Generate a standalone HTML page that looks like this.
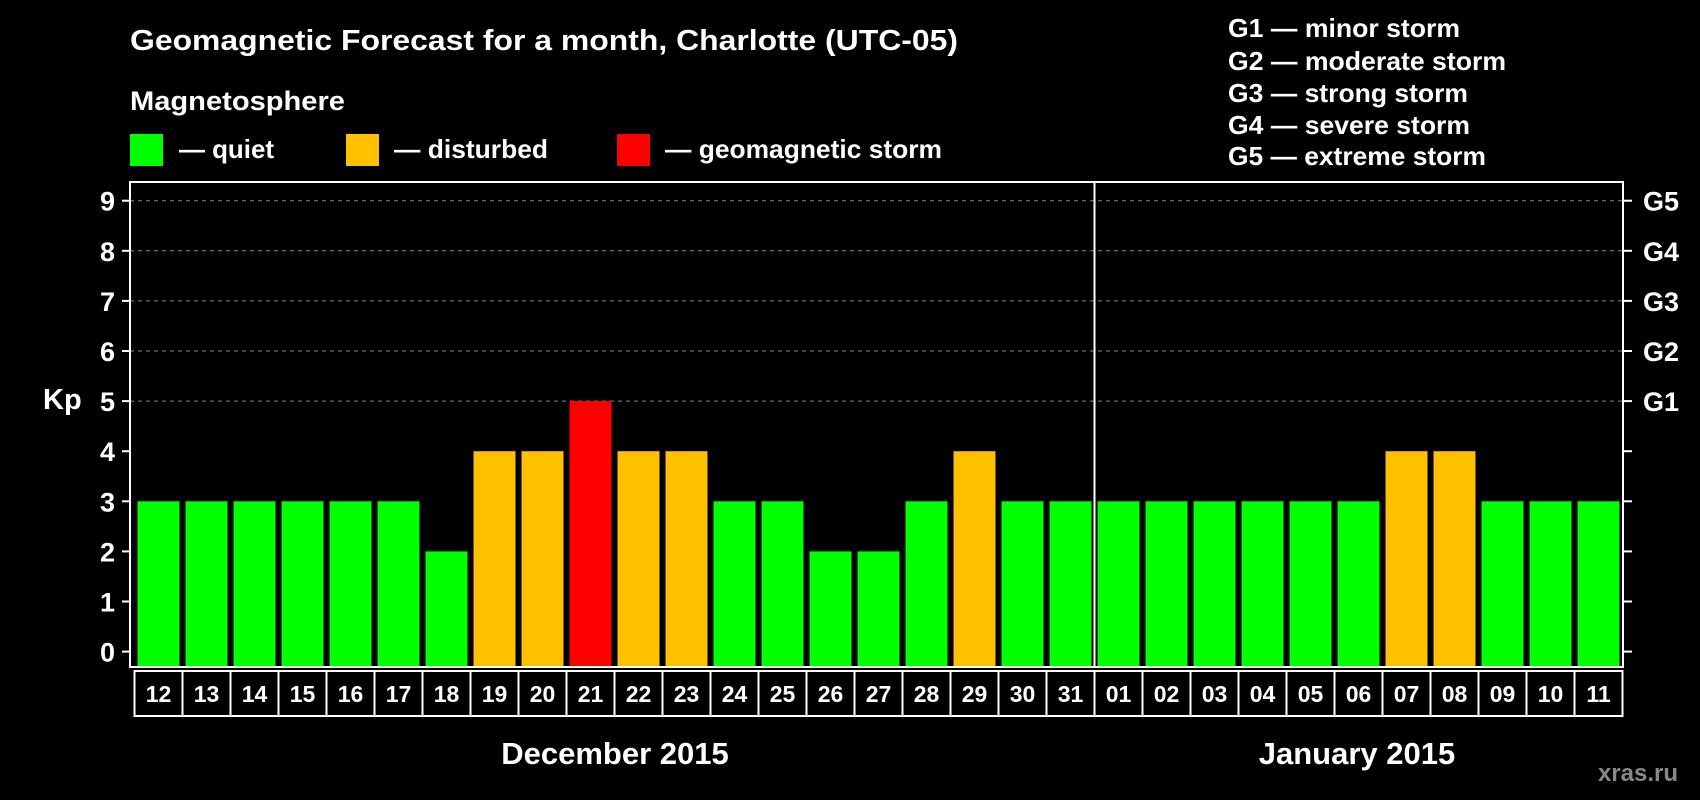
<!DOCTYPE html>
<html><head><meta charset="utf-8"><style>
html,body{margin:0;padding:0;background:#000;}
svg{display:block;font-family:"Liberation Sans",Arial,sans-serif;font-weight:bold;}
</style></head><body>
<svg id="chart" width="1700" height="800" viewBox="0 0 1700 800">
<rect x="0" y="0" width="1700" height="800" fill="#000"/>
<text x="130" y="50" fill="#fff" font-size="29" textLength="828" lengthAdjust="spacingAndGlyphs">Geomagnetic Forecast for a month, Charlotte (UTC-05)</text>
<text x="130" y="110" fill="#fff" font-size="27" textLength="215" lengthAdjust="spacingAndGlyphs">Magnetosphere</text>
<rect x="130" y="134" width="33" height="32" fill="#00ff00"/>
<text x="179" y="158" fill="#fff" font-size="26" textLength="95" lengthAdjust="spacingAndGlyphs">— quiet</text>
<rect x="346" y="134" width="33" height="32" fill="#ffc000"/>
<text x="394" y="158" fill="#fff" font-size="26" textLength="154" lengthAdjust="spacingAndGlyphs">— disturbed</text>
<rect x="617" y="134" width="33" height="32" fill="#ff0000"/>
<text x="665" y="158" fill="#fff" font-size="26" textLength="277" lengthAdjust="spacingAndGlyphs">— geomagnetic storm</text>
<g fill="#fff" font-size="26">
<text x="1228" y="37" textLength="232" lengthAdjust="spacingAndGlyphs">G1 — minor storm</text>
<text x="1228" y="70" textLength="278" lengthAdjust="spacingAndGlyphs">G2 — moderate storm</text>
<text x="1228" y="102" textLength="240" lengthAdjust="spacingAndGlyphs">G3 — strong storm</text>
<text x="1228" y="134" textLength="242" lengthAdjust="spacingAndGlyphs">G4 — severe storm</text>
<text x="1228" y="165" textLength="258" lengthAdjust="spacingAndGlyphs">G5 — extreme storm</text>
</g>
<text x="43" y="409" fill="#fff" font-size="29">Kp</text>
<g id="plot"></g>
<text x="615" y="764" fill="#fff" font-size="31" text-anchor="middle">December 2015</text>
<text x="1357" y="764" fill="#fff" font-size="31" text-anchor="middle">January 2015</text>
<text x="1678" y="781" fill="#888" font-size="24" text-anchor="end">xras.ru</text>
</svg>
<script>
const days = ["12","13","14","15","16","17","18","19","20","21","22","23","24","25","26","27","28","29","30","31","01","02","03","04","05","06","07","08","09","10","11"];
const kpValues = [3,3,3,3,3,3,2,4,4,5,4,4,3,3,2,2,3,4,3,3,3,3,3,3,3,3,4,4,3,3,3];
const yTicks = [0,1,2,3,4,5,6,7,8,9];
const gLabels = ["G1","G2","G3","G4","G5"];
const gLevels = [5,6,7,8,9];
const monthBreakIndex = 20;

const NS = "http://www.w3.org/2000/svg";
const g = document.getElementById("plot");
const L = 130, R = 1623, T = 182, B = 667, boxL = 134.5, pitch = 48;
function y(v){ return 651.6 - v * 50.1; }
function xc(i){ return boxL + pitch/2 + i * pitch; }
function mk(tag, attrs){ const e = document.createElementNS(NS, tag); for (const k in attrs) e.setAttribute(k, attrs[k]); g.appendChild(e); return e; }
function color(v){ return v >= 5 ? "#ff0000" : (v >= 4 ? "#ffc000" : "#00ff00"); }

yTicks.forEach(function(t){
  if (t >= 5) {
    const gl = mk("line", {x1:L, x2:R, y1:y(t), y2:y(t), stroke:"#888", "stroke-width":1, "stroke-dasharray":"4,4"});
    
    
  }
  const tl = mk("line", {x1:122, x2:L, y1:y(t), y2:y(t), stroke:"#fff", "stroke-width":2});
  
  
  const tr = mk("line", {x1:R, x2:R+9, y1:y(t), y2:y(t), stroke:"#fff", "stroke-width":2});
  
  
  const lab = mk("text", {x:115, y:y(t)+10, fill:"#fff", "font-size":27, "text-anchor":"end"});
  lab.textContent = t;
  
  
});
gLabels.forEach(function(s, i){
  const t = mk("text", {x:1643, y:y(gLevels[i])+10, fill:"#fff", "font-size":27});
  t.textContent = s;
  
  
});
kpValues.forEach(function(v, i){
  const b = mk("rect", {x:xc(i)-21, y:y(v), width:42, height:y(0)+15.4-y(v), fill:color(v)});
  
  
});
days.forEach(function(d, i){
  const bx = mk("rect", {x:boxL + i*pitch, y:671, width:pitch, height:45, fill:"none", stroke:"#fff", "stroke-width":2});
  
  
  const t = mk("text", {x:xc(i), y:702, fill:"#fff", "font-size":23, "text-anchor":"middle"});
  t.textContent = d;
  
  
});
const frame = mk("rect", {x:L, y:T, width:R-L, height:B-T, fill:"none", stroke:"#fff", "stroke-width":2});


const dv = mk("line", {x1:boxL + monthBreakIndex*pitch, x2:boxL + monthBreakIndex*pitch, y1:T, y2:B, stroke:"#fff", "stroke-width":2});


</script>
</body></html>
